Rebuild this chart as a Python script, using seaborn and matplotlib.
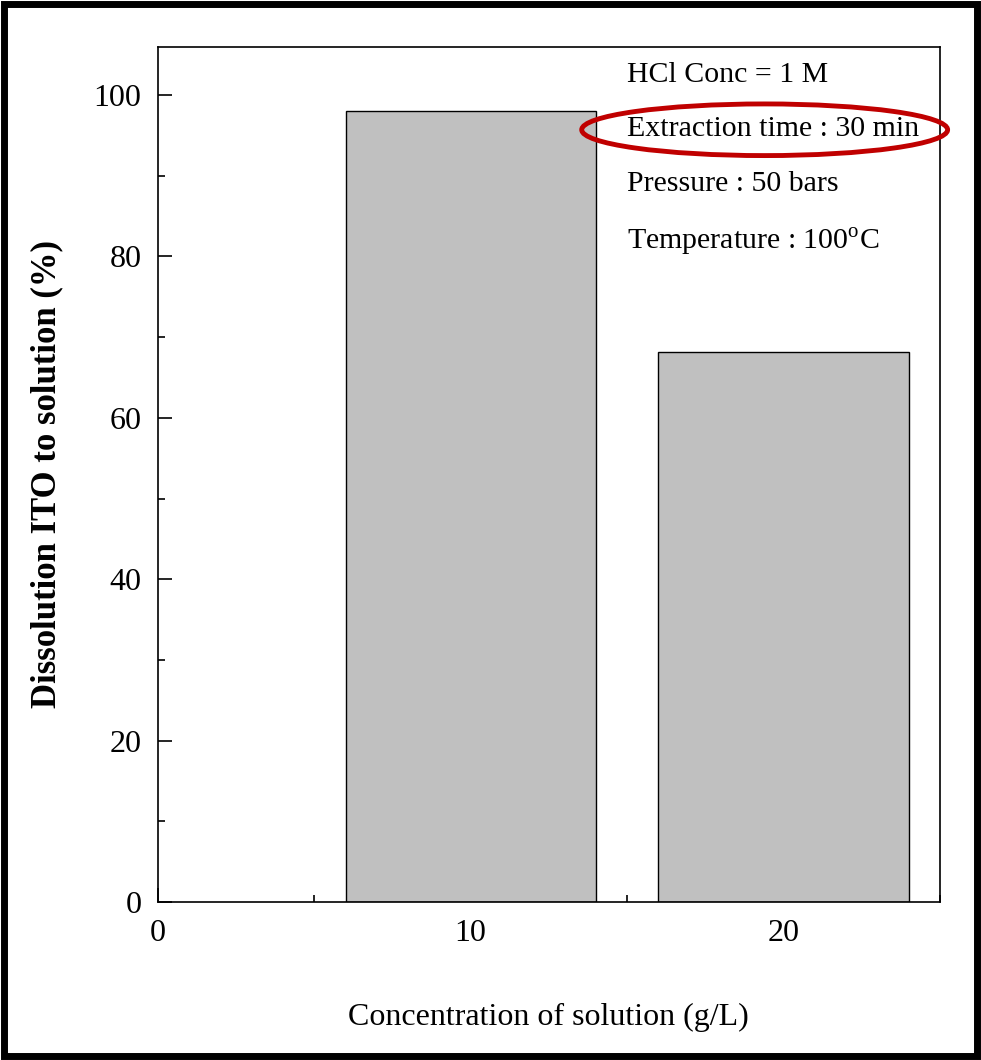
import matplotlib
matplotlib.use("Agg")
import matplotlib.pyplot as plt
import pandas as pd
import seaborn as sns
from matplotlib.patches import Ellipse, Rectangle
from matplotlib.ticker import MultipleLocator

concentration = [10, 20]
dissolution = [98.0, 68.2]
notes = ["HCl Conc = 1 M", "Extraction time : 30 min", "Pressure : 50 bars",
         "Temperature : 100$^{\\mathregular{o}}$C"]

sns.set_theme(style="ticks")
plt.rcParams["font.family"] = ["Liberation Serif", "DejaVu Serif"]
plt.rcParams["mathtext.fontset"] = "custom"
plt.rcParams["mathtext.rm"] = "Liberation Serif"
plt.rcParams["text.color"] = "black"
plt.rcParams["axes.labelcolor"] = "black"
plt.rcParams["xtick.color"] = "black"
plt.rcParams["ytick.color"] = "black"

df = pd.DataFrame({"conc": concentration, "diss": dissolution})
fig = plt.figure(figsize=(9.81, 10.6), dpi=100)
ax = fig.add_axes([0.161, 0.149, 0.797, 0.807])
sns.barplot(data=df, x="conc", y="diss", native_scale=True, width=0.8,
            color="#c0c0c0", saturation=1, edgecolor="black", linewidth=1, ax=ax)

ax.set_xlim(0, 25)
ax.set_ylim(0, 106)
ax.xaxis.set_major_locator(MultipleLocator(10))
ax.xaxis.set_minor_locator(MultipleLocator(5))
ax.yaxis.set_major_locator(MultipleLocator(20))
ax.yaxis.set_minor_locator(MultipleLocator(10))
ax.tick_params(which="both", direction="in", top=False, right=False,
               labelsize=23, width=1.2)
ax.tick_params(which="major", length=10, pad=12)
ax.tick_params(which="minor", length=5)
for s in ax.spines.values():
    s.set_linewidth(1.2)
    s.set_color("black")
ax.set_xlabel("Concentration of solution (g/L)", fontsize=23, labelpad=40)
ax.set_ylabel("Dissolution ITO to solution (%)", fontsize=25, fontweight="bold",
              labelpad=22)

ys = [102.5, 95.8, 89.0, 81.8]
for t, y in zip(notes, ys):
    ax.text(15.0, y, t, fontsize=21.5, va="center", ha="left")
ax.add_patch(Ellipse((19.4, 95.7), 11.7, 6.4, fill=False, edgecolor="#c00000",
                     linewidth=3.5, clip_on=False, zorder=5))

fig.patches.append(Rectangle((0.004, 0.004), 0.992, 0.992, transform=fig.transFigure,
                             fill=False, edgecolor="black", linewidth=5))
fig.savefig("out.png", dpi=100)
